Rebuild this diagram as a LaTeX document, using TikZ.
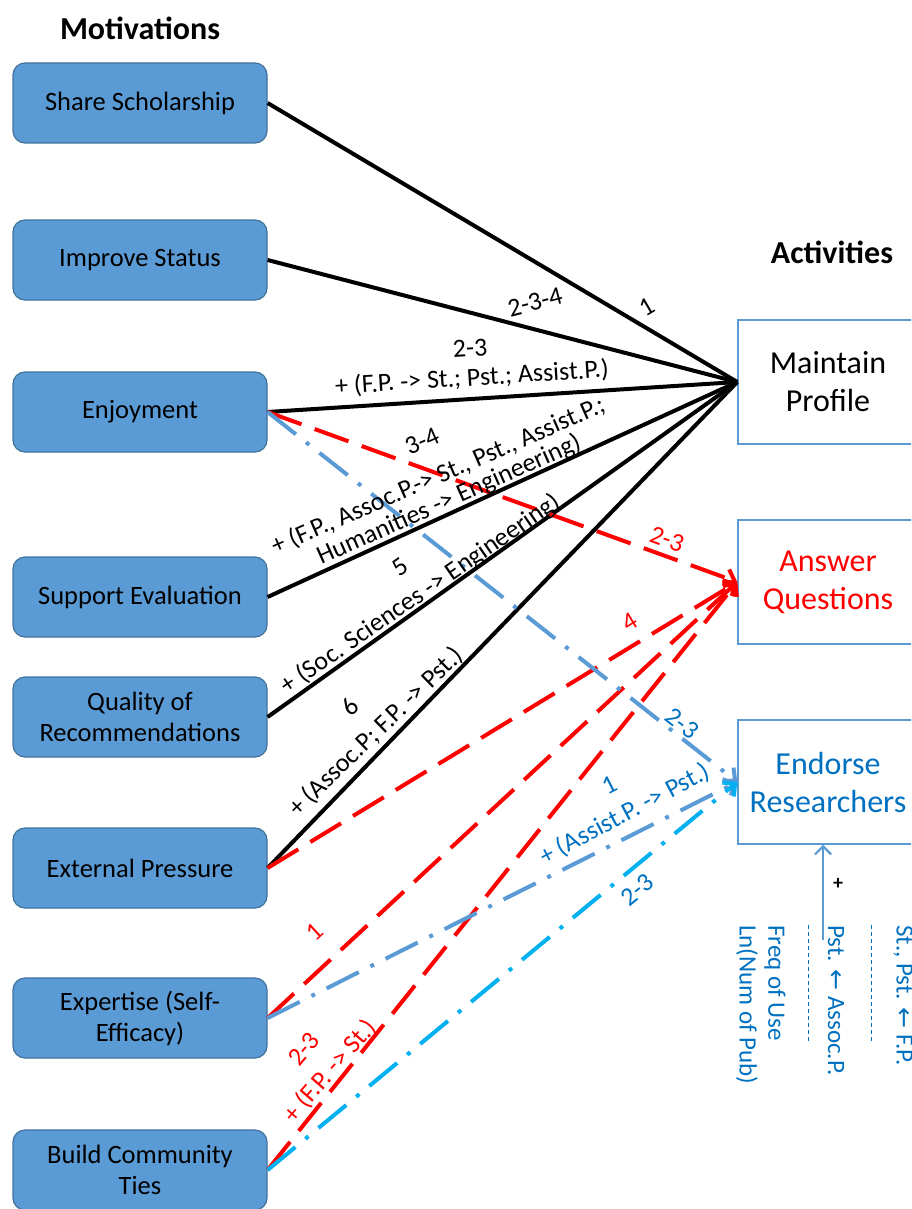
\documentclass[tikz,border=0pt]{standalone}
\usepackage{fontspec}
\setmainfont{Carlito}
\newfontfamily\arrowfont{DejaVu Sans}
\usetikzlibrary{arrows.meta}

\definecolor{boxfill}{HTML}{5B9BD5}
\definecolor{boxedge}{HTML}{41719C}
\definecolor{linkblue}{HTML}{5B9BD5}
\definecolor{linkcyan}{HTML}{00B0F0}
\definecolor{textblue}{HTML}{0070C0}
\definecolor{linkred}{HTML}{FF0000}

\tikzset{
  motive/.style={draw=boxedge, line width=1.2pt, fill=boxfill, rounded corners=12pt,
    minimum width=254pt, minimum height=80pt, align=center, inner sep=2pt,
    font=\fontsize{26.5}{31}\selectfont, text=black},
  activity/.style={draw=linkblue, line width=1.5pt, fill=white,
    minimum width=180pt, minimum height=124pt, align=center,
    font=\fontsize{32}{38}\selectfont},
  heading/.style={font=\fontsize{32}{36}\selectfont\bfseries},
  lbl/.style={font=\fontsize{26}{30}\selectfont, inner sep=0pt},
  tip/.style={-{Straight Barb[length=9pt,width=18pt]}},
  solidlink/.style={line width=4pt, black},
  redlink/.style={line width=4pt, linkred, dash pattern=on 36pt off 14pt, tip},
  bluelink/.style={line width=4pt, linkblue, dash pattern=on 36pt off 13pt on 4pt off 13pt, tip},
  cyanlink/.style={line width=4pt, linkcyan, dash pattern=on 36pt off 13pt on 4pt off 13pt, tip},
  vtext/.style={font=\fontsize{25}{30}\selectfont, text=textblue, rotate=-90, anchor=west, inner sep=0pt},
  separator/.style={textblue, line width=1pt, dash pattern=on 4pt off 3pt}
}

\begin{document}
\begin{tikzpicture}[x=1pt,y=-1pt]
\useasboundingbox (0,0) rectangle (911,1209);
\clip (0,0) rectangle (911,1209);

% column headings
\node[heading] (hmot) at (140,28) {Motivations};
\node[heading] (hact) at (832,252) {Activities};

% motivations
\node[motive] (share)   at (140,103)  {Share Scholarship};
\node[motive] (status)  at (140,260)  {Improve Status};
\node[motive] (enjoy)   at (140,412)  {Enjoyment};
\node[motive] (support) at (140,597)  {Support Evaluation};
\node[motive] (quality) at (140,717)  {Quality of\\Recommendations};
\node[motive] (extern)  at (140,868)  {External Pressure};
\node[motive] (expert)  at (140,1018) {Expertise (Self-\\Efficacy)};
\node[motive] (build)   at (140,1170) {Build Community\\Ties};

% activities
\node[activity] (profile) at (828,382) {Maintain\\Profile};
\node[activity, text=linkred] (answer) at (828,582) {Answer\\Questions};
\node[activity, text=textblue] (endorse) at (828,782) {Endorse\\Researchers};

% links to Maintain Profile
\draw[solidlink] (share.east)   -- (profile.west);
\draw[solidlink] (status.east)  -- (profile.west);
\draw[solidlink] (enjoy.east)   -- (profile.west);
\draw[solidlink] (support.east) -- (profile.west);
\draw[solidlink] (quality.east) -- (profile.west);
\draw[solidlink] (extern.east)  -- (profile.west);

% links to Answer Questions
\draw[redlink] (enjoy.east)  -- (answer.west);
\draw[redlink] (extern.east) -- (answer.west);
\draw[redlink] (expert.east) -- (answer.west);
\draw[redlink] (build.east)  -- (answer.west);

% links to Endorse Researchers
\draw[bluelink] (enjoy.east)  -- (endorse.west);
\draw[bluelink] (expert.east) -- (endorse.west);
\draw[cyanlink] (build.east)  -- (endorse.west);

% labels of the black links
\node[lbl, rotate=30.5] (k1)   at (647,307) {1};
\node[lbl, rotate=14.5] (k234) at (535,302) {2-3-4};
\node[lbl, rotate=3.6]  (k23)  at (470,348) {2-3};
\node[lbl, rotate=3.6]  (k23b) at (472,378) {+ (F.P. -> St.; Pst.; Assist.P.)};
\node[lbl, rotate=24]   (k34)  at (422,441) {3-4};
\node[lbl, rotate=23.5] (k34b) at (438,476) {+ (F.P., Assoc.P.-> St., Pst., Assist.P.;};
\node[lbl, rotate=24]   (k34c) at (449,500) {Humanities -> Engineering)};
\node[lbl, rotate=35]   (k5)   at (400,567) {5};
\node[lbl, rotate=34.5] (k5b)  at (421,594) {+ (Soc. Sciences -> Engineering)};
\node[lbl, rotate=45]   (k6)   at (350,707) {6};
\node[lbl, rotate=44]   (k6b)  at (376,732) {+ (Assoc.P; F.P. -> Pst.)};

% labels of the red links
\node[lbl, text=linkred, rotate=-19.8] (r23)  at (667,539)  {2-3};
\node[lbl, text=linkred, rotate=31.3]  (r4)   at (630,622)  {4};
\node[lbl, text=linkred, rotate=42.8]  (r1)   at (315,932)  {1};
\node[lbl, text=linkred, rotate=50]    (r23b) at (304,1049) {2-3};
\node[lbl, text=linkred, rotate=49]    (r23c) at (330,1071) {+ (F.P. -> St.)};

% labels of the blue links
\node[lbl, text=textblue, rotate=-38]  (b23)  at (682,723) {2-3};
\node[lbl, text=textblue, rotate=27]   (b1)   at (610,785) {1};
\node[lbl, text=textblue, rotate=28]   (b1b)  at (625,814) {+ (Assist.P. -> Pst.)};
\node[lbl, text=textblue, rotate=39.4] (c23)  at (637,890) {2-3};

% moderators of endorsing
\coordinate (mod) at (823,940);
\draw[linkblue, line width=2.2pt, -{Straight Barb[length=8pt,width=16pt]}] (mod) -- (mod |- endorse.south);
\node[font=\fontsize{20}{24}\selectfont\bfseries, inner sep=0pt] (plus) at (838,884) {+};

\node[vtext] (m1) at (903,925) {St., Pst. {\arrowfont ←} F.P.};
\draw[separator] (871,925) -- (871,1043);
\node[vtext] (m2) at (836,925) {Pst. {\arrowfont ←} Assoc.P.};
\draw[separator] (808,925) -- (808,1043);
\node[vtext] (m3) at (775,925) {Freq of Use};
\node[vtext] (m4) at (747,925) {Ln(Num of Pub)};
\end{tikzpicture}
\end{document}
